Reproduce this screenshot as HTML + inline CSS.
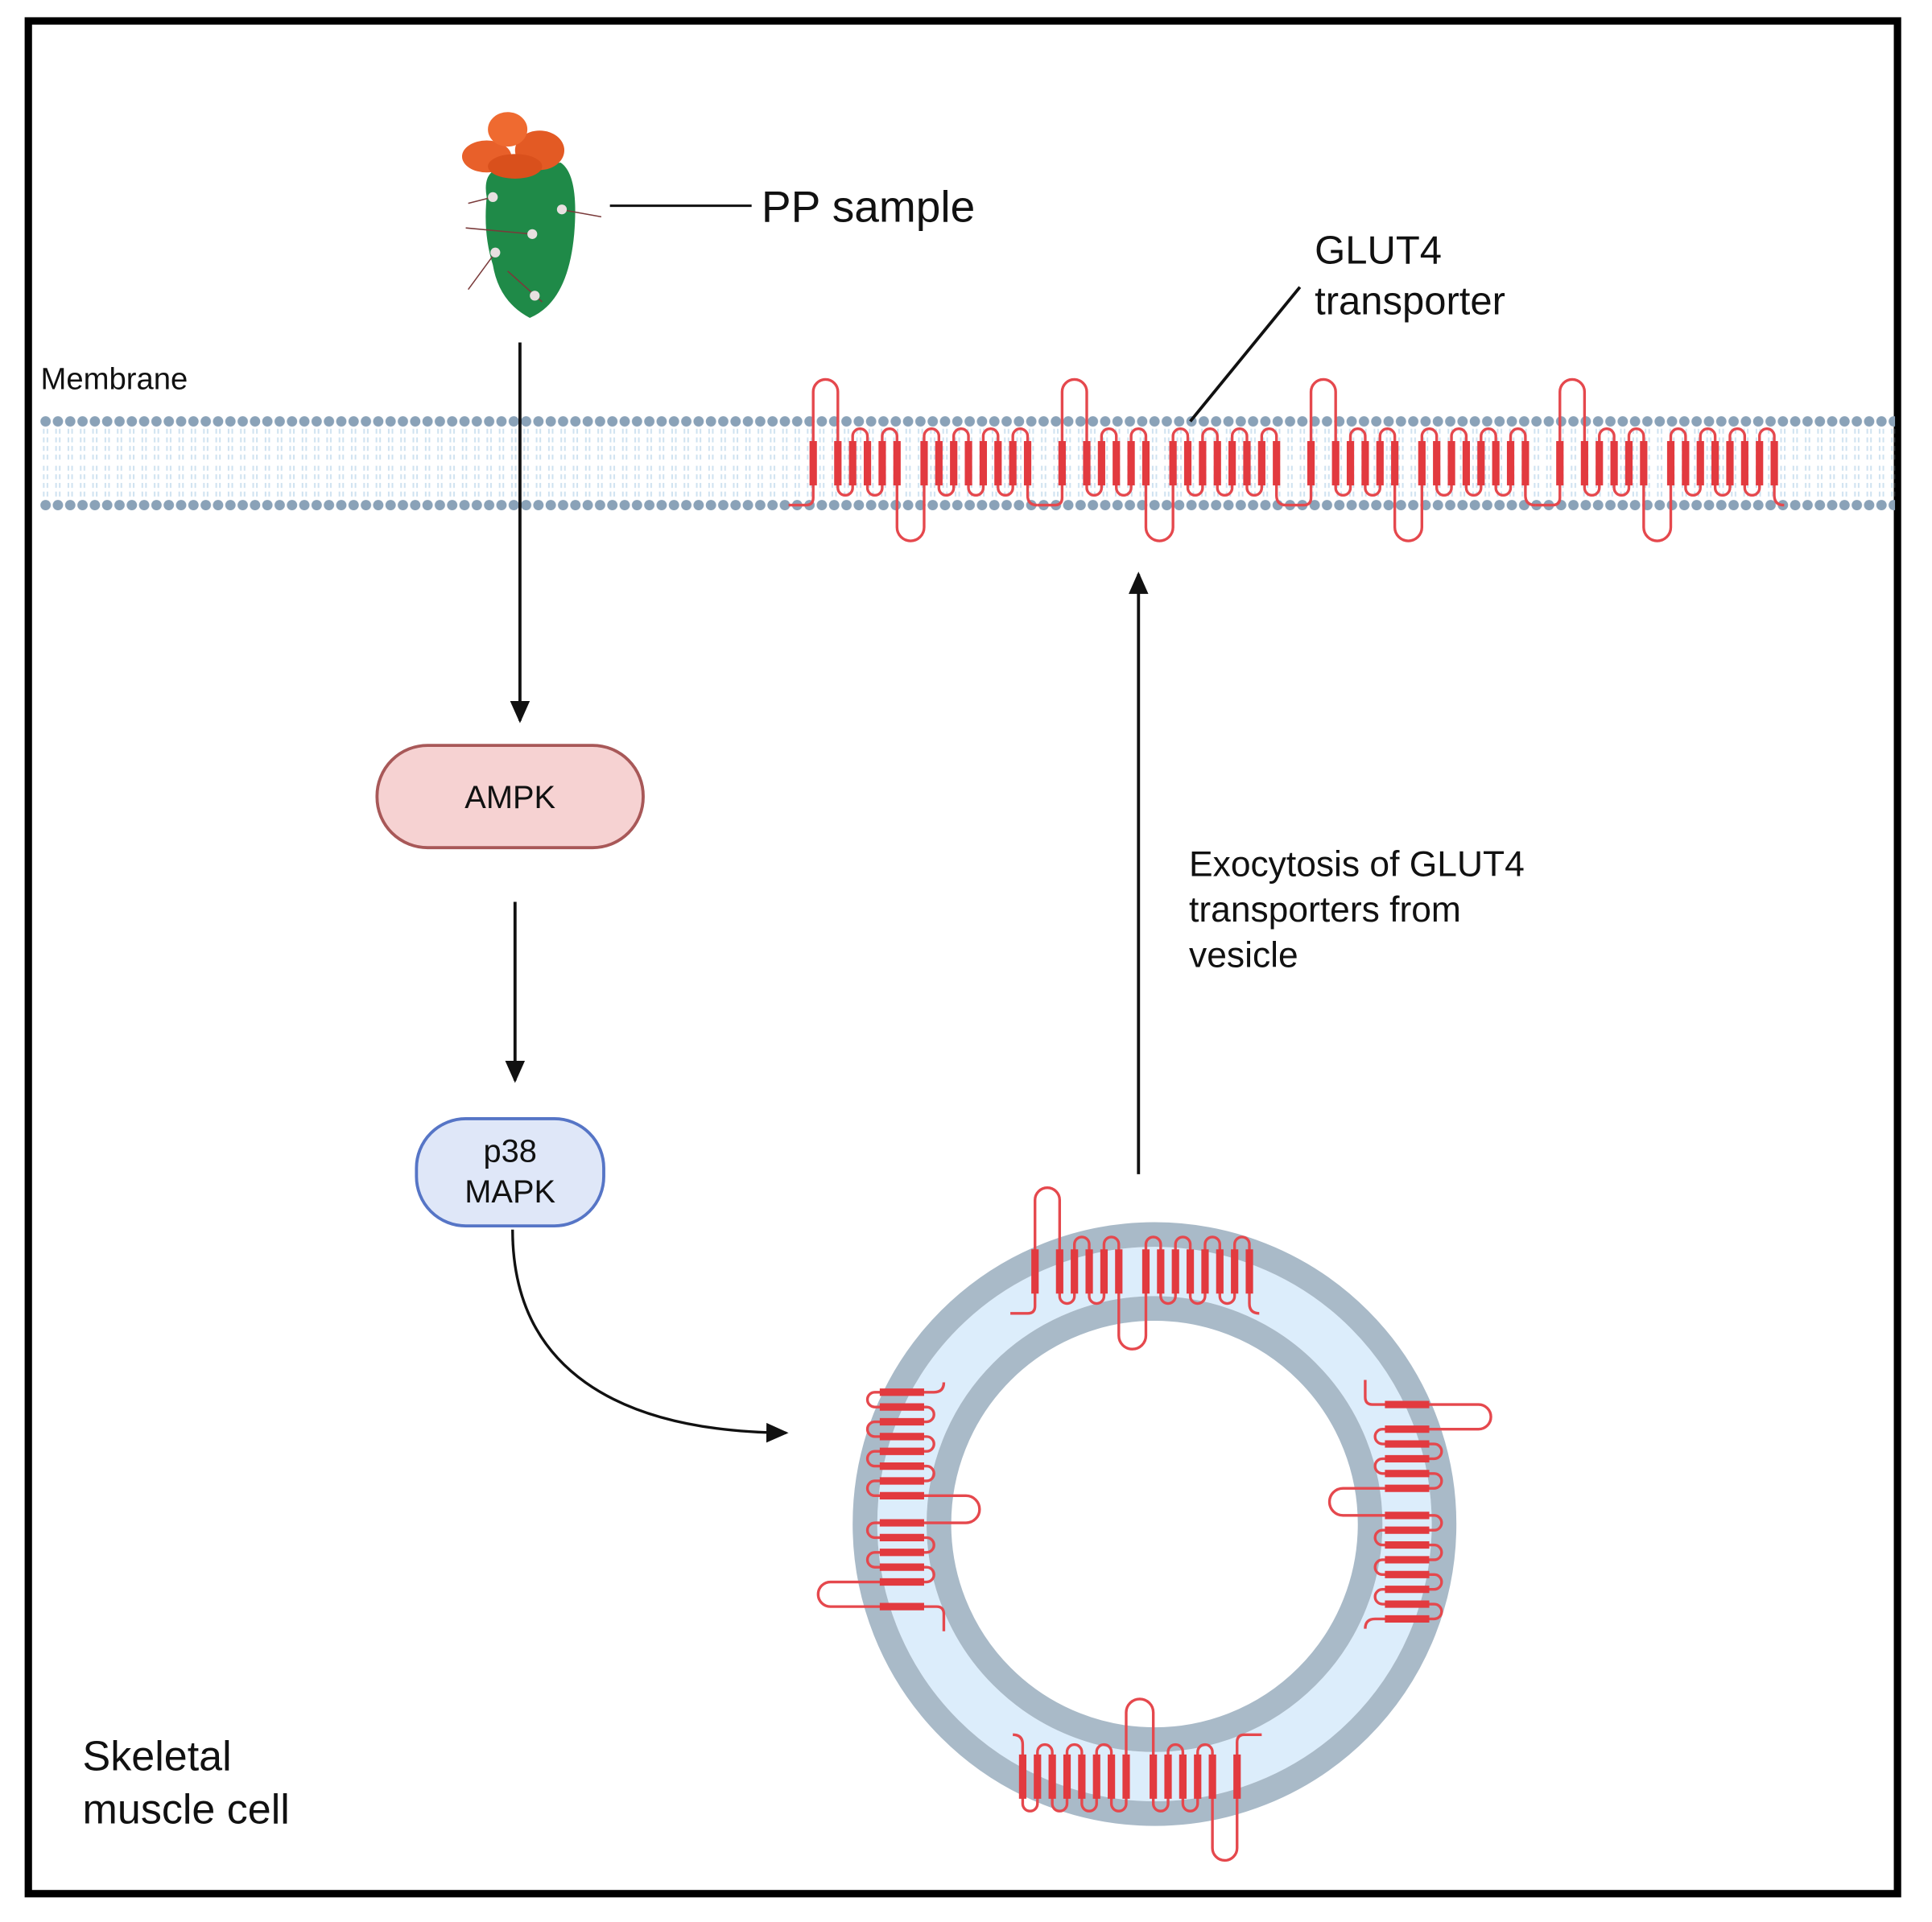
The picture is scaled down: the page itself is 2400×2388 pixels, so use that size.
<!DOCTYPE html>
<html><head><meta charset="utf-8"><style>html,body{margin:0;padding:0;background:#fff}svg{display:block}</style></head><body>
<svg width="2400" height="2388" viewBox="0 0 1568 1560" preserveAspectRatio="none" xmlns="http://www.w3.org/2000/svg" font-family="Liberation Sans, sans-serif">
<defs>
<pattern id="mem" patternUnits="userSpaceOnUse" x="32" y="330" width="10" height="92">
<line x1="3.5" y1="18" x2="3.5" y2="44" stroke="#cfe2f0" stroke-width="1.3" stroke-dasharray="4 3"/>
<line x1="6.5" y1="18" x2="6.5" y2="44" stroke="#cfe2f0" stroke-width="1.3" stroke-dasharray="4 3"/>
<line x1="3.5" y1="48" x2="3.5" y2="74" stroke="#cfe2f0" stroke-width="1.3" stroke-dasharray="4 3"/>
<line x1="6.5" y1="48" x2="6.5" y2="74" stroke="#cfe2f0" stroke-width="1.3" stroke-dasharray="4 3"/>
<circle cx="5" cy="12" r="4.2" fill="#8aa2b8"/>
<circle cx="5" cy="80" r="4.2" fill="#8aa2b8"/>
</pattern>
<g id="prot">
<path d="M0,410 H14 Q20,410 20,404 V318 A10,10 0 0 1 40,318 V396 A6,6 0 0 0 52,396 V354 A6,6 0 0 1 64,354 V396 A6,6 0 0 0 76,396 V354 A6,6 0 0 1 88,354 V428 A11,11 0 0 0 110,428 V354 A6,6 0 0 1 122,354 V396 A6,6 0 0 0 134,396 V354 A6,6 0 0 1 146,354 V396 A6,6 0 0 0 158,396 V354 A6,6 0 0 1 170,354 V396 A6,6 0 0 0 182,396 V354 A6,6 0 0 1 194,354 V402 Q194,410 202,410" fill="none" stroke="#e5484d" stroke-width="2.2"/>
<path d="M20,358V394M40,358V394M52,358V394M64,358V394M76,358V394M88,358V394M110,358V394M122,358V394M134,358V394M146,358V394M158,358V394M170,358V394M182,358V394M194,358V394" stroke="#e23a3f" stroke-width="6"/>
</g>
<marker id="ah" markerWidth="20" markerHeight="20" refX="16" refY="10" orient="auto" markerUnits="userSpaceOnUse"><path d="M0,2 L18,10 L0,18 Z" fill="#111"/></marker>
</defs>
<rect x="0" y="0" width="1568" height="1560" fill="#fff"/>
<rect x="23" y="17" width="1517" height="1520" fill="none" stroke="#000" stroke-width="6"/>

<rect x="32" y="330" width="1506" height="92" fill="url(#mem)"/>
<use href="#prot" x="640"/>
<use href="#prot" x="842"/>
<use href="#prot" x="1044"/>
<use href="#prot" x="1246"/>
<text x="33" y="316" font-size="25" fill="#111">Membrane</text>

<g>
<path d="M395,160 Q390,132 420,136 L455,132 Q470,142 466,190 Q461,245 430,258 Q405,245 400,215 Q392,190 395,160 Z" fill="#1f8a48"/>
<ellipse cx="395" cy="127" rx="20" ry="13" fill="#e8602a"/>
<ellipse cx="438" cy="122" rx="20" ry="16" fill="#e35a24"/>
<ellipse cx="412" cy="105" rx="16" ry="14" fill="#ef6a30"/>
<ellipse cx="418" cy="135" rx="22" ry="10" fill="#d9501c"/>
<g stroke="#7a3a3a" stroke-width="1"><line x1="380" y1="165" x2="400" y2="160"/><line x1="378" y1="185" x2="432" y2="190"/><line x1="380" y1="235" x2="402" y2="205"/><line x1="455" y1="170" x2="488" y2="176"/><line x1="412" y1="220" x2="440" y2="245"/></g>
<g fill="#e8e0e0"><circle cx="400" cy="160" r="4"/><circle cx="432" cy="190" r="4"/><circle cx="402" cy="205" r="4"/><circle cx="456" cy="170" r="4"/><circle cx="434" cy="240" r="4"/></g>
</g>
<line x1="495" y1="167" x2="610" y2="167" stroke="#111" stroke-width="2"/>
<text x="618" y="180" font-size="36" fill="#111">PP sample</text>

<text x="1067" y="214" font-size="32" fill="#111">GLUT4</text>
<text x="1067" y="255" font-size="32" fill="#111">transporter</text>
<line x1="1055" y1="233" x2="966" y2="342" stroke="#111" stroke-width="2.5"/>

<line x1="422" y1="278" x2="422" y2="585" stroke="#111" stroke-width="2.5" marker-end="url(#ah)"/>
<rect x="306" y="605" width="216" height="83" rx="41" fill="#f6d2d2" stroke="#a85858" stroke-width="2.5"/>
<text x="414" y="656" font-size="26" text-anchor="middle" fill="#111">AMPK</text>
<line x1="418" y1="732" x2="418" y2="877" stroke="#111" stroke-width="2.5" marker-end="url(#ah)"/>
<rect x="338" y="908" width="152" height="87" rx="40" fill="#dfe7f8" stroke="#5675c6" stroke-width="2.5"/>
<text x="414" y="943" font-size="26" text-anchor="middle" fill="#111">p38</text>
<text x="414" y="976" font-size="26" text-anchor="middle" fill="#111">MAPK</text>
<path d="M416,998 C416,1110 500,1162 638,1163" fill="none" stroke="#111" stroke-width="2.2" marker-end="url(#ah)"/>
<line x1="924" y1="953" x2="924" y2="466" stroke="#111" stroke-width="2.5" marker-end="url(#ah)"/>

<text x="965" y="711" font-size="29" fill="#111">Exocytosis of GLUT4</text>
<text x="965" y="748" font-size="29" fill="#111">transporters from</text>
<text x="965" y="785" font-size="29" fill="#111">vesicle</text>

<text x="67" y="1437" font-size="34" fill="#111">Skeletal</text>
<text x="67" y="1480" font-size="34" fill="#111">muscle cell</text>

<circle cx="937" cy="1237" r="205" fill="none" stroke="#dcedfb" stroke-width="40"/>
<circle cx="937" cy="1237" r="235" fill="none" stroke="#a9bac8" stroke-width="20"/>
<circle cx="937" cy="1237" r="175" fill="none" stroke="#a9bac8" stroke-width="20"/>
<use href="#prot" transform="translate(820,656)"/>
<use href="#prot" transform="rotate(180 937 1237) translate(850,656)"/>
<use href="#prot" transform="translate(0,-30) rotate(-90 937 1237) translate(820,656)"/>
<use href="#prot" transform="rotate(90 937 1237) translate(820,656)"/>
</svg>
</body></html>
